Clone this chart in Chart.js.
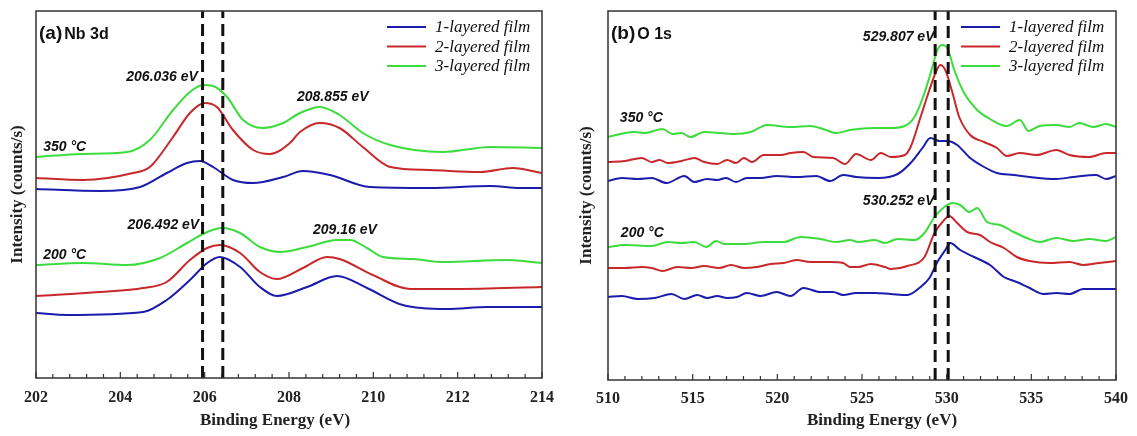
<!DOCTYPE html>
<html>
<head>
<meta charset="utf-8">
<script src="https://cdn.jsdelivr.net/npm/chart.js@4.4.1/dist/chart.umd.min.js"></script>
<style>
	html, body { margin: 0; padding: 0; background: #fff; }
	#wrap { position: relative; width: 1137px; height: 436px; }
	#nbChart { position: absolute; left: 0; top: 0; }
	#oChart { position: absolute; left: 568px; top: 0; }
</style>
</head>
<body>
<div id="wrap">
	<canvas id="nbChart" width="568" height="436"></canvas>
	<canvas id="oChart" width="569" height="436"></canvas>
</div>
<script>
// legend entries
const films = ['1-layered film', '2-layered film', '3-layered film'];
const filmColors = ['#1c1cac', '#c8282a', '#3ddc3d'];

// (a) Nb 3d spectra, [binding energy (eV), intensity (a.u.)]
const nb350Blue = [[202.0, 189], [203.52, 187], [204.47, 191], [205.1, 205], [205.58, 215], [205.89, 217], [206.2, 211], [206.67, 198], [207.15, 195], [207.86, 201], [208.33, 207], [208.97, 203], [209.92, 191], [211.34, 190], [212.77, 192], [213.48, 190], [214.0, 190]];
const nb350Red = [[202.0, 200], [203.11, 198], [204.3, 205], [204.7, 211], [205.25, 241], [205.65, 265], [206.0, 275], [206.29, 271], [206.67, 248], [207.15, 228], [207.55, 224], [208.02, 235], [208.26, 246], [208.73, 255], [209.2, 250], [209.75, 231], [210.4, 211], [211.34, 208], [212.53, 206], [213.31, 210], [214.0, 205]];
const nb350Green = [[202.0, 221], [203.11, 224], [204.16, 226], [204.7, 238], [205.25, 268], [205.65, 286], [205.96, 293], [206.2, 292], [206.53, 281], [206.91, 258], [207.38, 250], [207.86, 255], [208.26, 265], [208.73, 271], [209.2, 263], [209.75, 245], [210.4, 233], [211.65, 226], [212.77, 231], [214.0, 230]];
const nb200Blue = [[202.0, 65], [202.74, 63], [204.54, 66], [205.1, 78], [205.65, 98], [206.06, 115], [206.36, 121], [206.84, 111], [207.31, 91], [207.71, 82], [208.43, 91], [209.14, 102], [209.85, 90], [210.7, 73], [211.75, 69], [212.7, 71], [214.0, 71]];
const nb200Red = [[202.0, 82], [203.52, 86], [204.54, 90], [205.1, 96], [205.65, 118], [206.06, 130], [206.36, 133], [206.84, 125], [207.31, 106], [207.71, 99], [208.33, 110], [208.9, 121], [209.2, 119], [209.99, 103], [210.87, 89], [211.98, 89], [214.0, 91]];
const nb200Green = [[202.0, 113], [203.11, 115], [204.16, 113], [204.94, 120], [205.58, 135], [206.06, 146], [206.41, 150], [206.84, 145], [207.31, 131], [207.79, 126], [208.43, 131], [209.14, 138], [209.45, 138], [209.85, 130], [210.23, 121], [210.94, 119], [211.65, 116], [213.17, 118], [214.0, 115]];
const nbPeakLines = [205.95, 206.43];

// (b) O 1s spectra
const o350Blue = [[510.0, 199], [510.82, 202], [511.76, 201], [512.58, 202], [513.46, 197], [514.51, 204], [515.1, 198], [515.86, 201], [516.45, 200], [516.97, 202], [517.56, 198], [518.2, 202], [519.02, 202], [519.96, 204], [521.13, 203], [522.3, 204], [523.12, 199], [523.89, 205], [524.65, 203], [525.94, 202], [527.11, 206], [527.87, 217], [528.57, 232], [529.04, 242], [529.57, 239], [530.04, 239], [530.62, 235], [531.39, 222], [532.21, 213], [532.97, 207], [533.96, 205], [534.9, 203], [536.48, 201], [537.48, 203], [538.83, 205], [539.41, 201], [540.0, 204]];
const o350Red = [[510.0, 218], [511.0, 219], [511.99, 222], [512.58, 218], [513.05, 220], [513.52, 217], [514.34, 219], [515.1, 222], [515.68, 218], [516.45, 216], [517.03, 220], [517.56, 217], [518.03, 222], [518.5, 218], [519.2, 225], [520.2, 225], [520.78, 227], [521.54, 228], [522.13, 223], [523.3, 222], [524.0, 216], [524.65, 226], [525.53, 220], [526.11, 227], [526.7, 223], [527.52, 225], [527.87, 233], [528.46, 263], [528.98, 290], [529.34, 307], [529.63, 315], [529.92, 310], [530.33, 288], [530.74, 263], [531.39, 245], [532.21, 238], [532.97, 232], [533.55, 224], [534.32, 227], [535.31, 225], [536.48, 230], [537.25, 225], [538.42, 223], [539.41, 227], [540.0, 227]];
const o350Green = [[510.0, 243], [511.0, 247], [511.58, 248], [512.17, 247], [513.22, 251], [513.81, 246], [514.34, 247], [514.86, 243], [515.68, 248], [516.68, 247], [517.44, 246], [518.44, 248], [519.37, 255], [520.78, 253], [521.95, 254], [522.71, 251], [523.48, 247], [524.3, 250], [524.77, 251], [525.76, 252], [526.7, 252], [527.52, 254], [528.1, 263], [528.69, 287], [529.16, 313], [529.45, 330], [529.75, 335], [530.04, 332], [530.45, 310], [531.03, 287], [531.8, 270], [532.56, 261], [533.55, 254], [534.32, 260], [534.84, 249], [535.49, 254], [536.48, 255], [537.25, 253], [537.83, 257], [538.66, 253], [539.41, 256], [540.0, 253]];
const o200Blue = [[510.0, 83], [510.82, 84], [511.76, 81], [512.75, 82], [513.75, 86], [514.51, 81], [515.27, 85], [515.86, 82], [516.45, 84], [517.03, 82], [517.62, 83], [518.2, 87], [519.02, 84], [519.96, 88], [520.78, 84], [521.54, 92], [522.54, 88], [523.3, 88], [523.89, 85], [524.65, 87], [525.76, 87], [526.7, 86], [527.69, 85], [528.46, 93], [528.98, 102], [529.45, 118], [529.92, 130], [530.21, 137], [530.8, 130], [531.62, 123], [532.56, 115], [533.38, 103], [534.14, 98], [534.9, 92], [535.72, 86], [536.48, 87], [537.25, 86], [538.07, 91], [539.24, 91], [540.0, 91]];
const o200Red = [[510.0, 112], [511.0, 112], [511.99, 113], [512.58, 112], [513.22, 109], [514.1, 113], [514.92, 112], [515.68, 114], [516.56, 112], [517.27, 115], [518.03, 112], [518.79, 113], [519.61, 116], [520.37, 117], [521.13, 120], [521.95, 118], [523.12, 118], [523.89, 117], [524.3, 113], [524.77, 113], [525.53, 116], [526.35, 113], [526.7, 111], [527.69, 114], [528.69, 123], [529.28, 147], [529.75, 158], [530.16, 164], [530.62, 157], [531.21, 148], [531.97, 145], [532.56, 138], [533.38, 132], [534.14, 123], [534.9, 119], [536.07, 117], [537.25, 118], [538.07, 115], [539.0, 117], [540.0, 119]];
const o200Green = [[510.0, 133], [511.0, 135], [512.58, 134], [513.52, 138], [514.34, 137], [515.1, 138], [515.8, 133], [516.39, 139], [516.86, 136], [518.03, 136], [519.2, 138], [520.37, 138], [521.37, 143], [522.54, 141], [523.48, 138], [524.3, 140], [524.77, 138], [525.76, 140], [526.35, 137], [527.11, 141], [528.1, 140], [528.69, 147], [529.28, 163], [529.86, 173], [530.33, 177], [530.8, 175], [531.33, 168], [531.8, 172], [532.38, 158], [533.14, 155], [533.96, 148], [534.73, 142], [535.49, 138], [536.48, 142], [537.48, 139], [538.42, 141], [539.41, 139], [540.0, 143]];
const oPeakLines = [529.32, 530.09];

// peak / temperature labels, placed in data units
const nbNotes = [
	{ text: '206.036 eV', e: 205.84, i: 301, align: 'right' },
	{ text: '208.855 eV', e: 208.19, i: 281, align: 'left' },
	{ text: '350 °C', e: 202.17, i: 231, align: 'left' },
	{ text: '206.492 eV', e: 205.87, i: 153, align: 'right' },
	{ text: '209.16 eV', e: 208.57, i: 148, align: 'left' },
	{ text: '200 °C', e: 202.17, i: 123, align: 'left' },
];
const oNotes = [
	{ text: '529.807 eV', e: 529.28, i: 343, align: 'right' },
	{ text: '530.252 eV', e: 529.28, i: 179, align: 'right' },
	{ text: '350 °C', e: 510.70, i: 262, align: 'left' },
	{ text: '200 °C', e: 510.76, i: 147, align: 'left' },
];

const serif = '"Liberation Serif", "Times New Roman", serif';
const sans = '"Liberation Sans", Arial, sans-serif';

const toPoints = (pairs) => pairs.map(([x, y]) => ({ x, y }));

const spectrum = (pairs, colorIndex) => ({
	data: toPoints(pairs),
	borderColor: filmColors[colorIndex],
	borderWidth: 2,
	pointRadius: 0,
	cubicInterpolationMode: 'monotone',
	order: 1,
});

const peakLine = (energy, top) => ({
	data: [{ x: energy, y: 0 }, { x: energy, y: top }],
	borderColor: '#111',
	borderWidth: 3,
	borderDash: [12, 6],
	pointRadius: 0,
	order: 0,
});

const panelDecor = {
	id: 'panelDecor',
	afterDatasetsDraw(chart, args, opts) {
		const { ctx, chartArea: area, scales: { x, y } } = chart;
		ctx.save();

		// inward ticks on the bottom axis
		ctx.strokeStyle = '#333';
		ctx.lineWidth = 1.2;
		const count = Math.round((x.max - x.min) / opts.minorStep);
		for (let i = 0; i <= count; i += 1) {
			const px = x.getPixelForValue(x.min + i * opts.minorStep);
			const len = i % opts.minorPerMajor === 0 ? 6 : 4;
			ctx.beginPath();
			ctx.moveTo(px, area.bottom);
			ctx.lineTo(px, area.bottom - len);
			ctx.stroke();
		}

		// frame
		ctx.lineWidth = 1.5;
		ctx.strokeRect(area.left, area.top, area.right - area.left, area.bottom - area.top);

		// panel tag
		ctx.fillStyle = '#111';
		ctx.textBaseline = 'middle';
		ctx.textAlign = 'left';
		ctx.font = `bold 19px ${sans}`;
		ctx.fillText(opts.tag, area.left + 3, area.top + 23);
		const tagWidth = ctx.measureText(opts.tag).width;
		ctx.font = `bold 16px ${sans}`;
		ctx.fillText(opts.element, area.left + 5 + tagWidth, area.top + 24);

		// notes
		ctx.font = `italic bold 14px ${sans}`;
		opts.notes.forEach((note) => {
			ctx.textAlign = note.align;
			ctx.fillText(note.text, x.getPixelForValue(note.e), y.getPixelForValue(note.i));
		});

		// legend
		ctx.font = `italic 17px ${serif}`;
		ctx.textAlign = 'left';
		films.forEach((label, i) => {
			const rowY = area.top + 16 + i * 19.5;
			ctx.strokeStyle = filmColors[i];
			ctx.lineWidth = 2;
			ctx.beginPath();
			ctx.moveTo(area.right - 155, rowY);
			ctx.lineTo(area.right - 116, rowY);
			ctx.stroke();
			ctx.fillStyle = '#111';
			ctx.fillText(label, area.right - 107, rowY + 1);
		});

		// x axis title
		ctx.font = `bold 17px ${serif}`;
		ctx.textAlign = 'center';
		ctx.fillStyle = '#222';
		ctx.fillText('Binding Energy (eV)', (area.left + area.right) / 2 + opts.titleShift, 421);

		ctx.restore();
	},
};

function makePanel(canvasId, panel) {
	const context = document.getElementById(canvasId).getContext('2d');

	return new Chart(context, {
		type: 'line',
		data: {
			datasets: [
				...panel.lines.map((energy) => peakLine(energy, panel.yMax)),
				...panel.spectra.map((pairs, i) => spectrum(pairs, i % 3)),
			],
		},
		options: {
			responsive: false,
			animation: false,
			layout: { padding: { top: 11, right: panel.padRight, left: 0, bottom: 0 } },
			scales: {
				x: {
					type: 'linear',
					min: panel.xMin,
					max: panel.xMax,
					ticks: {
						stepSize: panel.step,
						autoSkip: false,
						maxRotation: 0,
						padding: panel.tickPad,
						color: '#222',
						font: { family: serif, size: 16, weight: 'bold' },
					},
					grid: { display: false, drawTicks: false },
					border: { display: false },
					afterFit: (scale) => { scale.height = panel.xHeight; },
				},
				y: {
					min: 0,
					max: panel.yMax,
					ticks: { display: false },
					grid: { display: false, drawTicks: false },
					border: { display: false },
					title: {
						display: true,
						text: 'Intensity (counts/s)',
						color: '#222',
						font: { family: serif, size: 17, weight: 'bold' },
						padding: { top: panel.titlePad, bottom: 0 },
					},
					afterFit: (scale) => { scale.width = panel.yWidth; },
				},
			},
			plugins: {
				legend: { display: false },
				tooltip: { enabled: false },
				panelDecor: {
					tag: panel.tag,
					element: panel.element,
					notes: panel.notes,
					minorStep: panel.minorStep,
					minorPerMajor: panel.minorPerMajor,
					titleShift: panel.titleShift,
				},
			},
		},
		plugins: [panelDecor],
	});
}

document.addEventListener('DOMContentLoaded', () => {
	makePanel('nbChart', {
		tag: '(a)',
		element: 'Nb 3d',
		spectra: [nb350Blue, nb350Red, nb350Green, nb200Blue, nb200Red, nb200Green],
		lines: nbPeakLines,
		notes: nbNotes,
		xMin: 202,
		xMax: 214,
		step: 2,
		minorStep: 0.4,
		minorPerMajor: 5,
		yMax: 367,
		yWidth: 36,
		xHeight: 58,
		padRight: 26,
		tickPad: 10,
		titlePad: 7,
		titleShift: -14,
	});

	makePanel('oChart', {
		tag: '(b)',
		element: 'O 1s',
		spectra: [o350Blue, o350Red, o350Green, o200Blue, o200Red, o200Green],
		lines: oPeakLines,
		notes: oNotes,
		xMin: 510,
		xMax: 540,
		step: 5,
		minorStep: 1,
		minorPerMajor: 5,
		yMax: 369,
		yWidth: 40,
		xHeight: 56,
		padRight: 17,
		tickPad: 9,
		titlePad: 8,
		titleShift: 20,
	});
});
</script>
</body>
</html>
